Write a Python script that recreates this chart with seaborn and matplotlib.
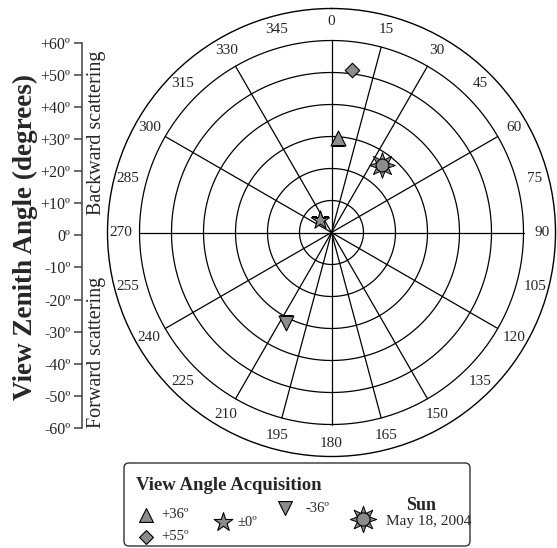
import numpy as np
import matplotlib
matplotlib.use("Agg")
import matplotlib.pyplot as plt
from matplotlib.patches import FancyBboxPatch
from matplotlib.path import Path
import seaborn as sns

# ---------------------------------------------------------------- data
azimuth_labels = list(range(0, 360, 15))         # degrees clockwise from north
spoke_angles = [0, 15, 30, 60, 90, 120, 150, 165, 180, 195, 210, 240, 270, 300, 330]
zenith_rings = [10, 20, 30, 40, 50, 60]          # concentric rings

vza_ticks = [60, 50, 40, 30, 20, 10, 0, -10, -20, -30, -40, -50, -60]
vza_labels = ["+60º", "+50º", "+40º", "+30º", "+20º", "+10º", "0º",
              "-10º", "-20º", "-30º", "-40º", "-50º", "-60º"]

# view angle acquisitions: azimuth (deg) and radial position
acq_names = ["+36º", "+55º", "±0º", "-36º"]
acq_azimuth = [3.7, 7.3, 317.0, 206.6]
acq_radius = [29.5, 51.2, 5.4, 31.7]

# sun position
sun_azimuth = [37.0]
sun_radius = [26.4]
sun_date = "May 18, 2004"

# ---------------------------------------------------------------- style
sns.set_style("white")
plt.rcParams["font.family"] = ["Liberation Serif", "DejaVu Serif"]

GRAY = "#8c8c8c"
W, H = 557, 548
fig = plt.figure(figsize=(W / 100, H / 100), dpi=100)

acq_markers = ["^", "D", "*", "v"]
acq_sizes = [115, 55, 190, 115]
sun_rays = Path.unit_regular_star(8, 0.5)

# ---------------------------------------------------------------- polar plot
cx, cy, R = 331.5, 232.5, 224
ax = fig.add_axes([(cx - R) / W, (H - cy - R) / H, 2 * R / W, 2 * R / H],
                  projection="polar")
ax.set_theta_zero_location("N")
ax.set_theta_direction(-1)
ax.grid(False)
ax.set_xticks([])
ax.set_yticks([])
ax.spines["polar"].set_color("black")
ax.spines["polar"].set_linewidth(1.0)

full = np.linspace(0, 2 * np.pi, 721)
for r in zenith_rings:
    ax.plot(full, np.full_like(full, r), color="black", lw=0.9, zorder=1)
for a in spoke_angles:
    t = np.deg2rad(a)
    ax.plot([t, t], [0, zenith_rings[-1]], color="black", lw=0.9, zorder=1)
for a in azimuth_labels:
    ax.text(np.deg2rad(a), 65.8, str(a), ha="center", va="center", fontsize=11)

for az, rr, mk, s in zip(acq_azimuth, acq_radius, acq_markers, acq_sizes):
    sns.scatterplot(x=[np.deg2rad(az)], y=[rr], marker=mk, s=s, color=GRAY,
                    edgecolor="black", linewidth=0.8, ax=ax, zorder=5, legend=False)

sns.scatterplot(x=np.deg2rad(sun_azimuth), y=sun_radius, marker=sun_rays, s=340,
                color=GRAY, edgecolor="black", linewidth=0.7, ax=ax, zorder=5, legend=False)
sns.scatterplot(x=np.deg2rad(sun_azimuth), y=sun_radius, marker="o", s=85,
                color=GRAY, edgecolor="black", linewidth=0.8, ax=ax, zorder=6, legend=False)
ax.set_ylim(0, 70)
ax.set_xlabel("")
ax.set_ylabel("")

# ---------------------------------------------------------------- view zenith scale
ax_v = fig.add_axes([82 / W, (H - 428) / H, 0.0005, (428 - 42.7) / H])
ax_v.patch.set_visible(False)
ax_v.set_ylim(-60, 60)
ax_v.set_yticks(vza_ticks)
ax_v.set_yticklabels(vza_labels)
ax_v.set_xticks([])
for side in ["top", "bottom", "right"]:
    ax_v.spines[side].set_visible(False)
ax_v.spines["left"].set_color("#404040")
ax_v.spines["left"].set_linewidth(1.1)
ax_v.tick_params(axis="y", direction="out", length=5.5, width=1.1, color="#404040",
                 labelsize=11.5, pad=3, left=True)

fig.text(25.5 / W, 1 - 237 / H, "View Zenith Angle (degrees)", rotation=90,
         ha="center", va="center", fontsize=19.5, fontweight="bold")
fig.text(97 / W, 1 - 215 / H, "Backward scattering", rotation=90,
         ha="center", va="bottom", fontsize=14.5)
fig.text(97 / W, 1 - 428 / H, "Forward scattering", rotation=90,
         ha="center", va="bottom", fontsize=14.5)

# ---------------------------------------------------------------- legend panel
ax_o = fig.add_axes([0, 0, 1, 1])
ax_o.set_xlim(0, W)
ax_o.set_ylim(H, 0)
ax_o.axis("off")
ax_o.patch.set_visible(False)

box = FancyBboxPatch((124, 463), 346, 83, boxstyle="round,pad=0,rounding_size=5",
                     fc="white", ec="#333333", lw=1.0, zorder=2)
ax_o.add_patch(box)
ax_o.text(136, 486, "View Angle Acquisition", ha="left", va="center",
          fontsize=13.5, fontweight="bold", zorder=3)

legend_pos = [(146, 515), (146, 537), (223, 522), (285, 508)]
legend_text_dx = [15, 15, 14, 20]
legend_sizes = [100, 50, 200, 100]
for (lx, ly), mk, s, name, dx in zip(legend_pos, acq_markers, legend_sizes,
                                     acq_names, legend_text_dx):
    sns.scatterplot(x=[lx], y=[ly], marker=mk, s=s, color=GRAY, edgecolor="black",
                    linewidth=0.8, ax=ax_o, zorder=4, legend=False)
    ax_o.text(lx + dx, ly, name, ha="left", va="center", fontsize=10.5, zorder=4)

sns.scatterplot(x=[363], y=[519], marker=sun_rays, s=360, color=GRAY,
                edgecolor="black", linewidth=0.7, ax=ax_o, zorder=4, legend=False)
sns.scatterplot(x=[363], y=[519], marker="o", s=90, color=GRAY,
                edgecolor="black", linewidth=0.8, ax=ax_o, zorder=5, legend=False)
ax_o.text(421, 505, "Sun", ha="center", va="center", fontsize=13,
          fontweight="bold", zorder=4)
ax_o.text(386, 522, sun_date, ha="left", va="center", fontsize=11, zorder=4)
ax_o.set_xlim(0, W)
ax_o.set_ylim(H, 0)

fig.savefig("out.png", dpi=100)
